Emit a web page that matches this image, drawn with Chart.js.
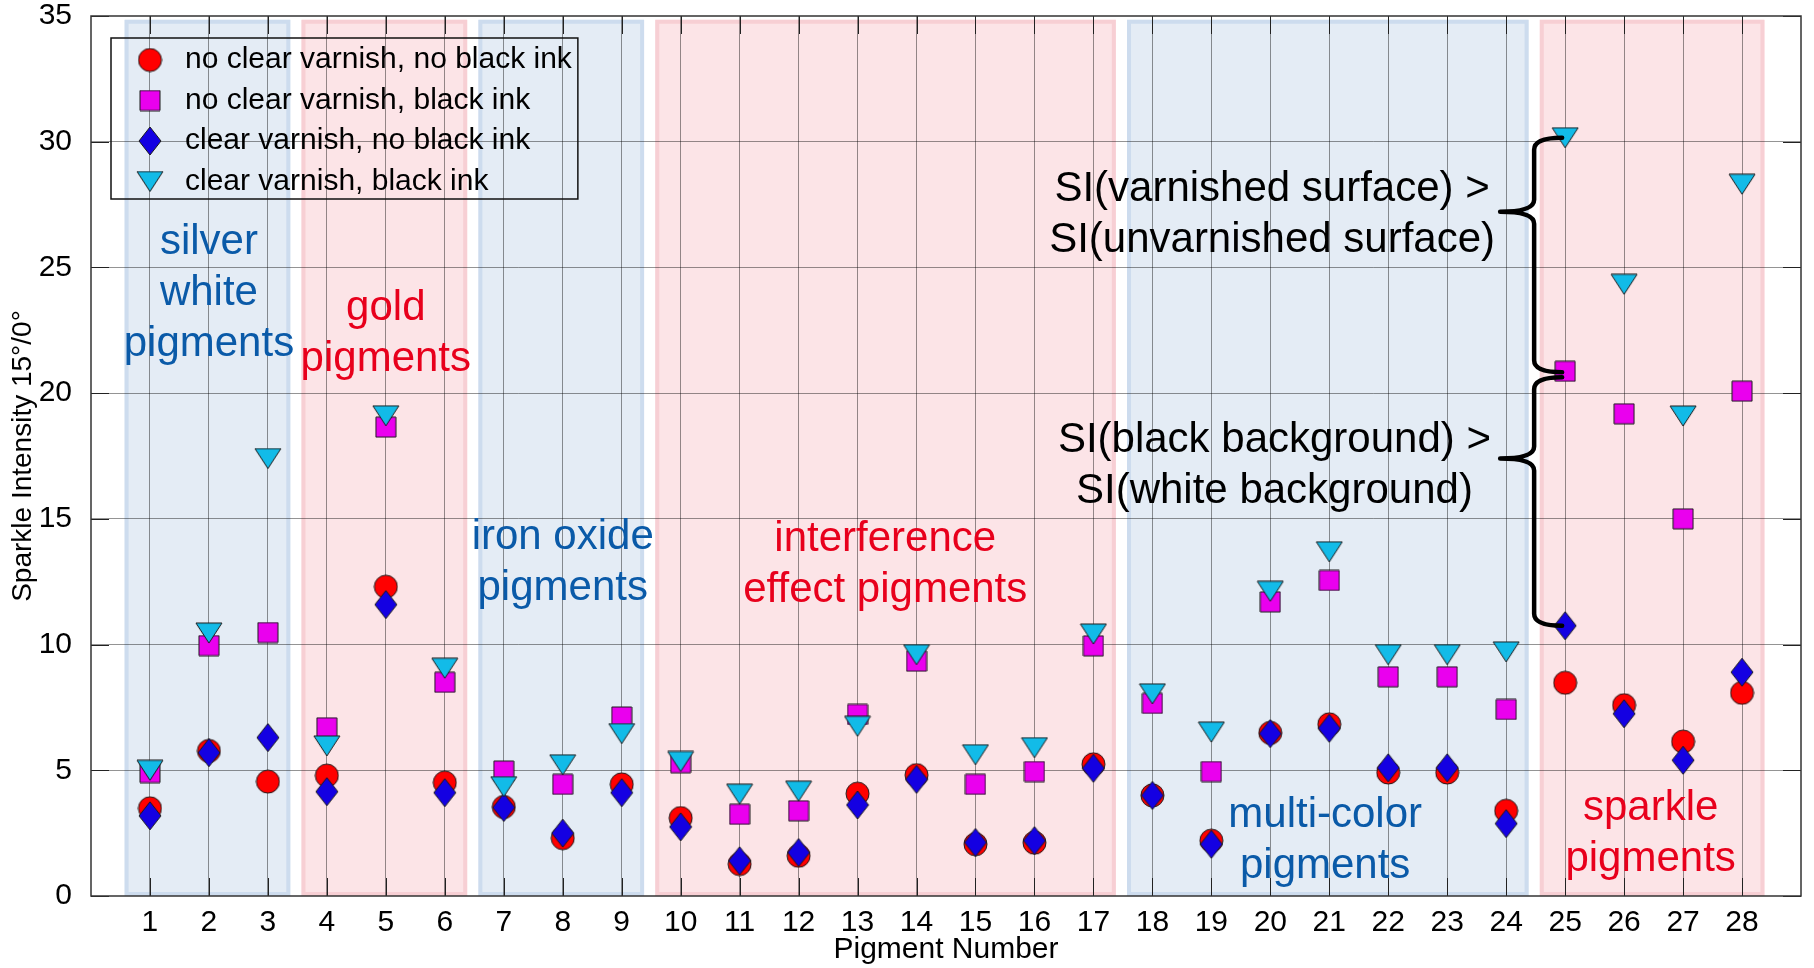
<!DOCTYPE html>
<html>
<head>
<meta charset="utf-8">
<script src="https://cdn.jsdelivr.net/npm/chart.js@4.4.0/dist/chart.umd.min.js"></script>
<style>
html, body { margin: 0; padding: 0; background: #fff; }
</style>
</head>
<body>
<canvas id="chart" width="1814" height="968"></canvas>
<script>
// data
var pigments = [1, 2, 3, 4, 5, 6, 7, 8, 9, 10, 11, 12, 13, 14, 15, 16, 17, 18, 19, 20, 21, 22, 23, 24, 25, 26, 27, 28];
var noVarnishNoInk = [3.49, 5.77, 4.55, 4.79, 12.3, 4.51, 3.54, 2.30, 4.44, 3.10, 1.27, 1.60, 4.07, 4.81, 2.06, 2.12, 5.24, 4.0, 2.2, 6.49, 6.83, 4.91, 4.91, 3.39, 8.48, 7.59, 6.14, 8.08];
var noVarnishInk = [4.91, 9.96, 10.48, 6.69, 18.65, 8.5, 4.97, 4.44, 7.12, 5.3, 3.25, 3.39, 7.22, 9.34, 4.44, 4.95, 9.95, 7.66, 4.95, 11.7, 12.55, 8.72, 8.72, 7.42, 20.87, 19.18, 15.0, 20.08];
var varnishNoInk = [3.19, 5.70, 6.30, 4.15, 11.59, 4.11, 3.52, 2.50, 4.11, 2.75, 1.40, 1.73, 3.62, 4.64, 2.13, 2.20, 5.08, 4.0, 2.06, 6.46, 6.67, 5.10, 5.10, 2.88, 10.75, 7.25, 5.40, 8.9];
var varnishInk = [5.0, 10.46, 17.4, 5.97, 19.1, 9.06, 4.35, 5.22, 6.46, 5.35, 4.05, 4.17, 6.75, 9.6, 5.62, 5.9, 10.42, 8.04, 6.52, 12.12, 13.69, 9.6, 9.6, 9.71, 30.16, 24.33, 19.09, 28.31];
var seriesNames = ["no clear varnish, no black ink", "no clear varnish, black ink", "clear varnish, no black ink", "clear varnish, black ink"];
var yTicks = [0, 5, 10, 15, 20, 25, 30, 35];

var groupLabels = [["silver", "white", "pigments"], ["gold", "pigments"], ["iron oxide", "pigments"], ["interference", "effect pigments"], ["multi-color", "pigments"], ["sparkle", "pigments"]];
var groupFirst = [1, 4, 7, 10, 18, 25];
var groupLast = [3, 6, 9, 17, 24, 28];
var notes = [["SI(varnished surface) >", "SI(unvarnished surface)"], ["SI(black background) >", "SI(white background)"]];

// where the annotations sit (axis units)
var groupTone = ["blue", "red", "blue", "red", "blue", "red"];
var groupTextAt = [[2, 25.98], [5, 23.36], [8, 14.26], [13.47, 14.18], [20.93, 3.22], [26.45, 3.5]];
var noteAt = [[20.03, 28.09], [20.07, 18.12]];
var braceTip = [27.21, 17.4];

var tones = {
    blue: { fill: "#e4ecf5", edge: "#cddcee", text: "#0a5aa8" },
    red: { fill: "#fce4e7", edge: "#f7cfd4", text: "#e8001c" }
};
var FONT = "'Liberation Sans', Arial, Helvetica, sans-serif";
Chart.defaults.font.family = FONT;
Chart.defaults.color = "#000";

function marker(shape, w, h, fill) {
    var c = document.createElement("canvas");
    c.width = w + 2;
    c.height = h + 2;
    var g = c.getContext("2d");
    var cx = c.width / 2, cy = c.height / 2;
    g.beginPath();
    if (shape === "circle") {
        g.ellipse(cx, cy, w / 2, h / 2, 0, 0, Math.PI * 2);
    } else if (shape === "square") {
        g.rect(cx - w / 2, cy - h / 2, w, h);
    } else if (shape === "diamond") {
        g.moveTo(cx, cy - h / 2);
        g.lineTo(cx + w / 2, cy);
        g.lineTo(cx, cy + h / 2);
        g.lineTo(cx - w / 2, cy);
        g.closePath();
    } else {
        g.moveTo(cx - w / 2, cy - h / 2);
        g.lineTo(cx + w / 2, cy - h / 2);
        g.lineTo(cx, cy + h / 2);
        g.closePath();
    }
    g.fillStyle = fill;
    g.fill();
    g.lineWidth = 1;
    g.strokeStyle = "#1a1a1a";
    g.stroke();
    return c;
}

function pts(vals) {
    return pigments.map(function (p, i) { return { x: p, y: vals[i] }; });
}

function line(ctx, x1, y1, x2, y2) {
    ctx.beginPath();
    ctx.moveTo(x1, y1);
    ctx.lineTo(x2, y2);
    ctx.stroke();
}

var decor = {
    id: "decor",
    afterLayout: function (chart) {
        var lg = chart.legend;
        lg.left = chart.chartArea.left + 28.5;
        lg.top = chart.chartArea.top + 18.5;
        lg.right = lg.left + lg.width;
        lg.bottom = lg.top + lg.height;
    },
    beforeDraw: function (chart) {
        var ctx = chart.ctx, xs = chart.scales.x, ys = chart.scales.y;
        var t = ys.getPixelForValue(34.85), b = ys.getPixelForValue(0);
        ctx.save();
        groupFirst.forEach(function (f, i) {
            var tone = tones[groupTone[i]];
            var l = xs.getPixelForValue(f - 0.43), r = xs.getPixelForValue(groupLast[i] + 0.38);
            ctx.fillStyle = tone.fill;
            ctx.fillRect(l, t, r - l, b - t);
            ctx.strokeStyle = tone.edge;
            ctx.lineWidth = 4;
            ctx.strokeRect(l + 2, t + 2, r - l - 4, b - t - 4);
        });
        ctx.restore();
    },
    afterDatasetsDraw: function (chart) {
        var ctx = chart.ctx, xs = chart.scales.x, ys = chart.scales.y;
        ctx.save();
        ctx.font = "42px " + FONT;
        ctx.textAlign = "center";
        ctx.textBaseline = "middle";
        groupLabels.forEach(function (lines, i) {
            ctx.fillStyle = tones[groupTone[i]].text;
            var x = xs.getPixelForValue(groupTextAt[i][0]);
            var y = ys.getPixelForValue(groupTextAt[i][1]);
            lines.forEach(function (s, k) { ctx.fillText(s, x, y + k * 51); });
        });
        ctx.fillStyle = "#000";
        notes.forEach(function (lines, i) {
            var x = xs.getPixelForValue(noteAt[i][0]);
            var y = ys.getPixelForValue(noteAt[i][1]);
            lines.forEach(function (s, k) { ctx.fillText(s, x, y + k * 51); });
        });

        // curly braces at pigment 25
        var j = pigments.indexOf(25);
        var xp = xs.getPixelForValue(25);
        var endX = xp - 3, stemX = xp - 31, tipX = xp - 65, r = 12;
        var spans = [[varnishInk[j], noVarnishInk[j]], [noVarnishInk[j], varnishNoInk[j]]];
        ctx.strokeStyle = "#000";
        ctx.lineWidth = 4.5;
        ctx.lineCap = "round";
        ctx.lineJoin = "round";
        spans.forEach(function (s, i) {
            var y0 = ys.getPixelForValue(s[0]) + (i ? 6 : 0);
            var y1 = ys.getPixelForValue(s[1]) + (i ? 0 : 1);
            var ym = ys.getPixelForValue(braceTip[i]);
            ctx.beginPath();
            ctx.moveTo(endX, y0);
            ctx.quadraticCurveTo(stemX, y0, stemX, y0 + r);
            ctx.lineTo(stemX, ym - r);
            ctx.quadraticCurveTo(stemX, ym, tipX, ym);
            ctx.quadraticCurveTo(stemX, ym, stemX, ym + r);
            ctx.lineTo(stemX, y1 - r);
            ctx.quadraticCurveTo(stemX, y1, endX, y1);
            ctx.stroke();
        });
        ctx.restore();
    },
    afterDraw: function (chart) {
        var ctx = chart.ctx, xs = chart.scales.x, ys = chart.scales.y, a = chart.chartArea;
        ctx.save();
        // inward tick marks
        ctx.strokeStyle = "#222";
        ctx.lineWidth = 1;
        pigments.forEach(function (p) {
            var x = Math.round(xs.getPixelForValue(p)) + 0.5;
            line(ctx, x, a.bottom, x, a.bottom - 18);
            line(ctx, x, a.top, x, a.top + 18);
        });
        yTicks.forEach(function (v) {
            var y = Math.round(ys.getPixelForValue(v)) + 0.5;
            line(ctx, a.left, y, a.left + 18, y);
            line(ctx, a.right, y, a.right - 18, y);
        });
        ctx.strokeStyle = "#333";
        ctx.lineWidth = 1.5;
        ctx.strokeRect(a.left, a.top, a.right - a.left, a.bottom - a.top);

        // frame round the legend
        var lg = chart.legend, pad = 10.5;
        ctx.font = "30px " + FONT;
        var tw = Math.max.apply(null, seriesNames.map(function (s) { return ctx.measureText(s).width; }));
        var sx = lg.left + pad, sy = lg.top + pad;
        ctx.strokeStyle = "#111";
        ctx.lineWidth = 1.5;
        ctx.strokeRect(sx - 19, sy - 7, 40 + 15 + tw + 25, 3 * 40.5 + 30 + 9.5);
        ctx.restore();
    }
};

new Chart(document.getElementById("chart").getContext("2d"), {
    type: "scatter",
    data: {
        datasets: [
            { label: seriesNames[0], data: pts(noVarnishNoInk), pointStyle: marker("circle", 23, 23, "#ff0000"), order: 3 },
            { label: seriesNames[1], data: pts(noVarnishInk), pointStyle: marker("square", 20, 20, "#ea00ee"), order: 2 },
            { label: seriesNames[2], data: pts(varnishNoInk), pointStyle: marker("diamond", 22, 28, "#1400e2"), order: 1 },
            { label: seriesNames[3], data: pts(varnishInk), pointStyle: marker("triangle", 26, 20, "#12bbe8"), order: 0 }
        ]
    },
    options: {
        responsive: false,
        animation: false,
        devicePixelRatio: 1,
        events: [],
        showLine: false,
        elements: { point: { radius: 12, hoverRadius: 12 } },
        layout: { padding: { top: 16, right: 9, left: 0, bottom: 0 } },
        plugins: {
            legend: {
                position: "chartArea",
                align: "start",
                labels: {
                    usePointStyle: true,
                    pointStyleWidth: 40,
                    boxHeight: 16,
                    padding: 10.5,
                    color: "#000",
                    font: { size: 30 },
                    sort: function (a, b) { return a.datasetIndex - b.datasetIndex; }
                }
            },
            tooltip: { enabled: false }
        },
        scales: {
            x: {
                type: "linear",
                min: 0,
                max: 29,
                afterFit: function (s) { s.height = 72; s.paddingLeft = 0; s.paddingRight = 0; },
                afterBuildTicks: function (s) { s.ticks = pigments.map(function (v) { return { value: v }; }); },
                ticks: { autoSkip: false, maxRotation: 0, padding: 9, font: { size: 30 }, color: "#000" },
                grid: { color: "rgba(0,0,0,0.42)", lineWidth: 1, drawTicks: false },
                border: { display: false },
                title: { display: true, text: "Pigment Number", font: { size: 30 }, color: "#000", padding: { top: 0, bottom: 0 } }
            },
            y: {
                type: "linear",
                min: 0,
                max: 35,
                afterFit: function (s) { s.width = 91; s.paddingTop = 0; s.paddingBottom = 0; },
                afterBuildTicks: function (s) { s.ticks = yTicks.map(function (v) { return { value: v }; }); },
                ticks: { padding: 19, font: { size: 30 }, color: "#000" },
                grid: {
                    color: function (c) { return (c.tick && (c.tick.value === 0 || c.tick.value === 35)) ? "rgba(0,0,0,0)" : "rgba(0,0,0,0.42)"; },
                    lineWidth: 1,
                    drawTicks: false
                },
                border: { display: false },
                title: { display: true, text: "Sparkle Intensity 15°/0°", font: { size: 28 }, color: "#000", padding: { top: 6, bottom: 0 } }
            }
        }
    },
    plugins: [decor]
});
</script>
</body>
</html>
